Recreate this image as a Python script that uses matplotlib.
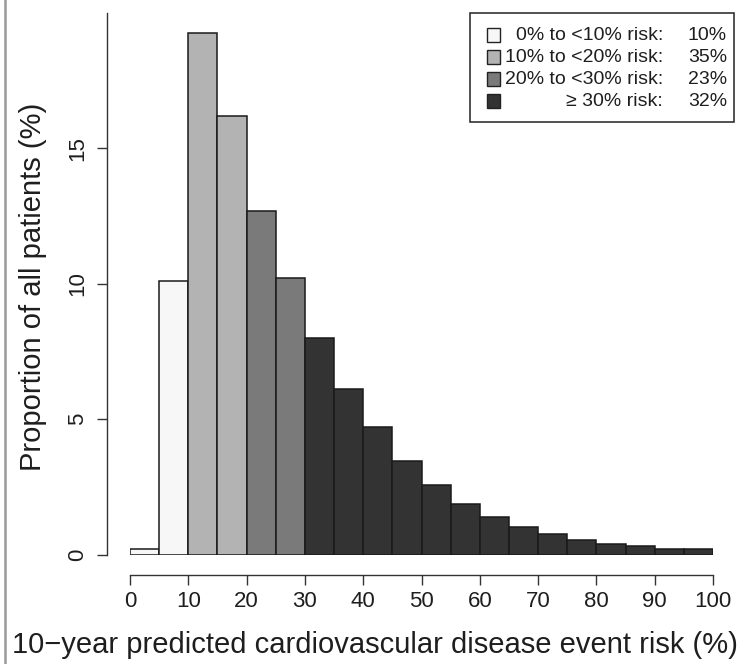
import matplotlib
matplotlib.use("Agg")
import matplotlib.pyplot as plt
from matplotlib.patches import Rectangle
from matplotlib.lines import Line2D

plt.rcParams['font.family'] = ['Liberation Sans', 'DejaVu Sans']

# histogram bins (risk %, 5-point wide) and proportions
bin_left = [0, 5, 10, 15, 20, 25, 30, 35, 40, 45, 50, 55, 60, 65, 70, 75, 80, 85, 90, 95]
proportion = [0.2, 10.1, 19.25, 16.2, 12.7, 10.2, 8.0, 6.1, 4.7, 3.45,
              2.55, 1.85, 1.4, 1.0, 0.77, 0.55, 0.39, 0.31, 0.2, 0.2]

group_labels = ["0% to <10% risk:", "10% to <20% risk:", "20% to <30% risk:", "\u2265 30% risk:"]
group_share = ["10%", "35%", "23%", "32%"]
group_colors = ["#f7f7f7", "#b3b3b3", "#7a7a7a", "#333333"]

x_ticks = [0, 10, 20, 30, 40, 50, 60, 70, 80, 90, 100]
y_ticks = [0, 5, 10, 15]

W, H = 740, 664
fig = plt.figure(figsize=(W / 100, H / 100), dpi=100)

def fx(px):
    return px / W

def fy(py):
    return 1 - py / H

# axes box: x 0..100 -> 130..713 px, y 0..20 -> 554.5..13 px
ax = fig.add_axes([fx(130), fy(554.5), fx(713) - fx(130), fy(13) - fy(554.5)])
ax.set_xlim(0, 100)
ax.set_ylim(0, 20)

def bin_color(left):
    if left < 10:
        return group_colors[0]
    if left < 20:
        return group_colors[1]
    if left < 30:
        return group_colors[2]
    return group_colors[3]

ax.bar(bin_left, proportion, width=5, align='edge',
       color=[bin_color(b) for b in bin_left], edgecolor='#1a1a1a', linewidth=1.1)

# R-style detached axes
for s in ['top', 'right']:
    ax.spines[s].set_visible(False)
ax.spines['left'].set_position(('outward', 16.5))
ax.spines['bottom'].set_position(('outward', 14.8))
ax.spines['left'].set_bounds(0, 20)
ax.spines['bottom'].set_bounds(0, 100)
for s in ['left', 'bottom']:
    ax.spines[s].set_color('#333333')
    ax.spines[s].set_linewidth(1.0)

ax.set_xticks(x_ticks)
ax.set_yticks(y_ticks)
ax.set_yticklabels([str(v) for v in y_ticks], rotation=90, va='center')
ax.tick_params(axis='both', length=7.5, width=1.0, color='#333333',
               labelsize=16, labelcolor='#1e1e1e')
ax.tick_params(axis='x', pad=4)
ax.tick_params(axis='y', pad=6)

fig.text(fx(375), fy(645), "10\u2212year predicted cardiovascular disease event risk (%)",
         ha='center', va='center', fontsize=21, color='#1e1e1e')
fig.text(fx(33), fy(287), "Proportion of all patients (%)", rotation=90,
         ha='center', va='center', fontsize=21, color='#1e1e1e')

# legend box drawn by hand (right-aligned label and share columns)
fig.patches.append(Rectangle((fx(470), fy(122)), fx(734) - fx(470), fy(13) - fy(122),
                             transform=fig.transFigure, facecolor='white',
                             edgecolor='#222222', linewidth=1.1))
row_y = [35, 57, 79, 101]
for lab, share, col, ry in zip(group_labels, group_share, group_colors, row_y):
    fig.patches.append(Rectangle((fx(487), fy(ry + 6.5)), fx(13), fy(0) - fy(13),
                                 transform=fig.transFigure, facecolor=col,
                                 edgecolor='#222222', linewidth=1.0))
    fig.text(fx(663), fy(ry), lab, ha='right', va='center', fontsize=14, color='#1e1e1e')
    fig.text(fx(727), fy(ry), share, ha='right', va='center', fontsize=14, color='#1e1e1e')

# thin grey rule along the left edge of the picture
fig.lines.append(Line2D([fx(5), fx(5)], [0, 1], transform=fig.transFigure,
                        color='#999999', linewidth=1.8))

fig.savefig("out.png", dpi=100)
